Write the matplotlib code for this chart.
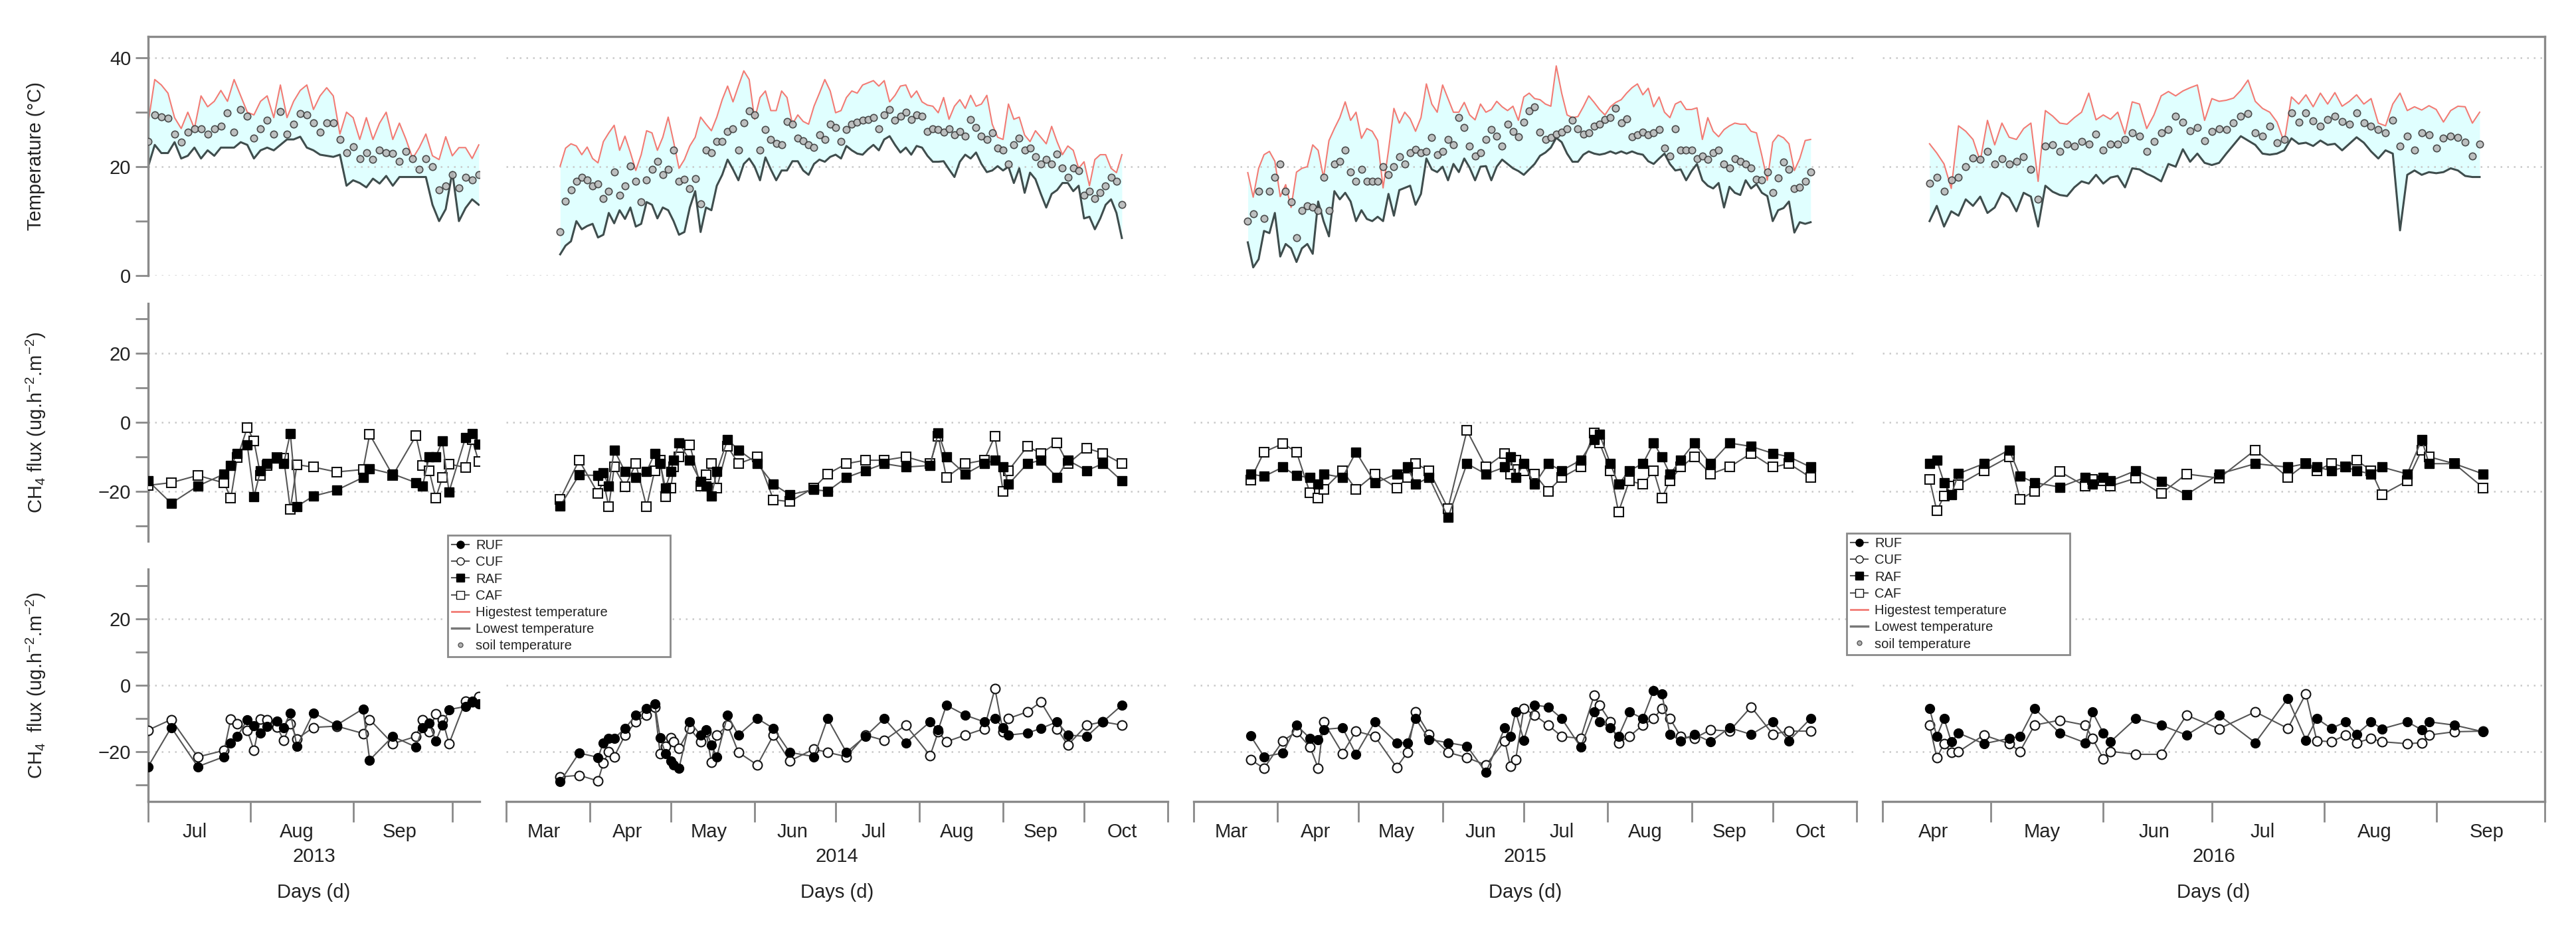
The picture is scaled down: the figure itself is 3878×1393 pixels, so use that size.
import numpy as np
import matplotlib.pyplot as plt
import matplotlib.dates as mdates
from matplotlib.lines import Line2D
from matplotlib.ticker import FixedLocator, NullFormatter

plt.rcParams['font.family'] = ['Liberation Sans', 'DejaVu Sans']
plt.rcParams['mathtext.default'] = 'regular'

# ---------------------------------------------------------------
# Data
# ---------------------------------------------------------------
years = ['2013', '2014', '2015', '2016']
season_start = ['2013-07-01', '2014-03-01', '2015-03-01', '2016-04-01']
season_end = ['2013-10-09T06', '2014-11-01', '2015-11-01', '2016-10-01']

# air / soil temperature, one reading every 2nd day from temp_first
temp_first = ['2013-07-01', '2014-03-21', '2015-03-21', '2016-04-14']
temp_step = 2

tmax_2013 = [28, 36, 35, 33.5, 29, 27, 30, 27, 33, 31, 32, 34, 32, 36, 33, 30, 29.5, 32, 33, 29,
             35, 29, 32, 34, 35, 30.5, 33, 34.5, 33, 26, 30, 29, 25, 29, 25, 28, 30, 25, 28, 25,
             21.5, 23.5, 26, 22, 21.3, 25.5, 22, 23.5, 23.5, 21.5, 24]
tmin_2013 = [20, 24, 22.5, 22.5, 24.5, 21.5, 22, 23.5, 21.5, 23, 22, 23.5, 23.5, 23.5, 24.5, 24,
             21.5, 23, 23.5, 23, 24, 25, 25, 25.5, 23.5, 23, 22.2, 22, 21.8, 22.2, 16.5, 17.5, 17,
             16.2, 17.8, 16.9, 18.3, 16.5, 18.1, 18.1, 18.1, 18.1, 18.1, 13, 10, 12.2, 19, 10,
             12.4, 14, 13]
tsoil_2013 = [24.6, 29.5, 29.2, 28.9, 26, 24.5, 26.4, 27, 27, 26, 27, 27.4, 29.9, 26.4, 30.5, 29.3,
              25.2, 27, 28.5, 26, 30.1, 26, 27.8, 29.7, 29.5, 28, 26.4, 28, 28, 25, 22.5, 23.6,
              21.5, 22.6, 21.3, 23, 22.5, 22.4, 21, 22.8, 21.5, 19.5, 21.5, 20, 15.7, 16.5, 18.5,
              16.1, 18, 17.5, 18.5]

tmax_2014 = [20.1, 23.4, 24.2, 23.8, 22.2, 23.6, 21.5, 20.7, 24.6, 26.2, 27.6, 23, 25.6, 22.6,
             19.3, 22.2, 26.6, 26.2, 23, 25.4, 29.1, 24.6, 19.7, 21.3, 23.8, 25.4, 29.1, 27.8,
             26.6, 29.1, 32.3, 34.8, 31.9, 34.8, 37.6, 36, 28.7, 32.7, 33.9, 30.3, 30.3, 33.9,
             32.7, 27.8, 29.5, 28.3, 27.8, 31.1, 33.5, 36, 33.9, 29.9, 30.3, 32.7, 33.9, 33.5,
             35, 35.4, 35.8, 34.8, 35.8, 31.9, 33.1, 34.8, 35, 32.7, 33.9, 31.9, 31.3, 31.1,
             29.9, 32.7, 28.7, 31.1, 32.3, 30.7, 33.1, 31.1, 31.5, 33.1, 27.8, 25.4, 25, 31.5,
             28.7, 29.1, 25.8, 24.6, 26.6, 25.4, 24.2, 27.4, 24.6, 22.2, 23.8, 23, 19.7, 20.9,
             16.5, 21.3, 22.2, 22.2, 19.7, 18.9, 22.2]
tmin_2014 = [3.9, 5.5, 6.3, 10, 8.5, 9.1, 9.5, 7, 7.5, 11.5, 9.6, 12, 10.4, 12.5, 9, 9.5, 13.5,
             13, 10.5, 12.5, 12, 10, 7.5, 8, 12.5, 15.5, 8, 12.5, 12, 16.5, 18.5, 21.3, 19.5,
             17.5, 20.5, 21.5, 20, 17.5, 21.7, 19.5, 17.5, 19.3, 19.3, 21, 21, 19.3, 18.5, 20.5,
             21.3, 20.9, 21.8, 22.2, 21.5, 23.8, 23, 22.4, 22.2, 23.2, 24, 23, 25, 25.6, 24,
             22.6, 23.5, 22.2, 23.8, 23.5, 22, 20.9, 20.9, 21, 19.5, 18.1, 20.9, 22.2, 21.5,
             22.6, 20.5, 19, 19.3, 20.1, 19.3, 20, 17, 19.7, 15.2, 18.9, 17.7, 15, 12.5, 15,
             15.7, 17, 17, 15.5, 16.5, 10.5, 10.8, 8.5, 10.5, 13, 14, 11.5, 6.9]
tsoil_2014 = [8.1, 13.6, 15.7, 17.3, 18, 17.5, 16.5, 16.8, 14.2, 15.5, 19, 14.8, 16.5, 20.1,
              17.3, 13.5, 17.5, 19.5, 21, 18.5, 19.5, 23, 17.3, 17.7, 16, 17.8, 13.2, 23, 22.5,
              24.6, 24.6, 26.5, 27, 23, 28, 30.3, 29.5, 23, 26.8, 25, 24.3, 24, 28.3, 27.8,
              25.2, 24.8, 24, 23.5, 25.8, 25, 27.8, 27.2, 24.6, 26.8, 27.8, 28.2, 28.5, 28.7,
              29, 27, 29.5, 30.5, 28.5, 29.3, 30, 28.7, 29.5, 29.3, 26.5, 27, 26.8, 26.4, 27,
              25.8, 26.5, 25.6, 28.7, 27.2, 25.6, 25, 26.2, 23.4, 23, 20.5, 24, 25.2, 23, 23.4,
              21.8, 20.5, 21.3, 20.5, 22.3, 19.7, 18.1, 19.7, 19.3, 14.8, 15.5, 14.2, 15.2,
              16.5, 18.1, 17.3, 13]

tmax_2015 = [18.9, 14.4, 19.7, 22.2, 22.8, 21, 14.5, 16.7, 12.5, 19, 19.7, 20, 24, 23, 18,
             24.8, 27, 29, 31.9, 28.5, 30, 25.2, 27, 26.5, 24.8, 16.1, 23, 30.7, 28, 30, 28.8,
             26.5, 29, 35.2, 31.5, 30, 35, 32.5, 30, 30, 31.8, 29.5, 28.6, 31.5, 30, 30.5, 32,
             31, 30.3, 31.1, 28.5, 32.8, 33.5, 32.5, 32.3, 31.5, 31.1, 38.5, 33.5, 29.5, 29,
             29.2, 31, 33, 31.8, 30.5, 29.5, 31, 31.8, 32.3, 33.5, 34.5, 35.2, 33.2, 34.4, 31,
             32.8, 30, 29, 31.5, 32, 30.5, 30.5, 30.8, 25, 29, 26.5, 25.5, 26.8, 27.5, 28,
             27.8, 27.8, 26.5, 26.2, 22, 17.5, 24.5, 25.8, 25.3, 24.2, 19.3, 21.5, 24.8, 25]
tmin_2015 = [6.1, 1.5, 3, 8.2, 7.8, 11.5, 3.5, 5.8, 5, 2.5, 5, 5.8, 4, 13.6, 10, 7.2, 15.5, 14,
             15.2, 13.6, 10, 12, 10.4, 10, 10.8, 10, 15, 11, 15.7, 16.1, 16.5, 13, 15, 21.5,
             19.5, 19, 20, 17.5, 20.5, 19, 21.5, 19.8, 17.5, 20, 20.1, 17.5, 20, 21.3, 20.5,
             19.7, 19.2, 18.5, 19.5, 20.5, 22, 22.6, 23.5, 25.3, 24.5, 22.4, 20.9, 20.9, 22.2,
             22.8, 22.4, 22.2, 22.4, 22.8, 22.4, 22.8, 22.4, 22.8, 22.4, 22.2, 21, 20.5, 21.5,
             22.4, 20.5, 19.3, 19.5, 17.5, 19.2, 20.5, 17.5, 16.5, 16, 17, 12.5, 16.3, 15.2,
             14.8, 17.5, 16, 16.8, 15.2, 14.6, 10, 12, 12.4, 13.6, 7.9, 9.8, 9.5, 9.8]
tsoil_2015 = [10, 11.3, 15.5, 10.5, 15.5, 18.1, 20.5, 15.5, 13.5, 7, 12, 12.8, 12.5, 12, 18, 12,
              20.5, 21, 23, 19, 17.3, 19.5, 17.3, 17.3, 17.3, 20, 18.5, 20, 21.8, 20.5, 22.5,
              23.2, 22.5, 22.8, 25.4, 22.2, 22.8, 25, 24, 29, 27.2, 23.8, 22, 22.5, 25, 26.8,
              25.6, 23.8, 27.8, 26.5, 25.5, 28.2, 30.3, 31, 26.4, 25, 25.4, 26, 26.4, 27, 28.5,
              27, 26, 26.2, 27.4, 27.8, 28.7, 29, 30.7, 28, 28.8, 25.5, 25.8, 26.4, 25.8, 26.2,
              26.8, 23.4, 22, 27, 23, 23, 23, 21.5, 22, 21.3, 22.5, 23, 20.5, 19.8, 21.5, 21,
              20.5, 19.8, 17.7, 17.5, 19, 15.2, 17.9, 20.8, 19.5, 16, 16.2, 17.3, 19]

tmax_2016 = [24.2, 22.5, 20.5, 16, 27.5, 26.5, 25, 21, 28.5, 24, 28, 25.4, 25, 27, 28, 17.3,
             30.3, 29.3, 28, 27.8, 29, 30, 33.5, 28.6, 29.5, 28.7, 30, 26, 31.9, 31.5, 27, 29.5,
             33, 33.8, 33, 33.9, 34.5, 35, 28.5, 32.5, 32, 32.2, 32.6, 34, 35.9, 32, 30.7, 30,
             28.2, 24.5, 32.8, 31.5, 33.2, 31, 33.5, 31.5, 33.6, 31.1, 32, 33.2, 31.5, 32.5, 28,
             27.5, 31.5, 33.5, 30.3, 31, 30.4, 31.2, 30.5, 28.2, 30.3, 31.1, 31, 28, 30]
tmin_2016 = [10, 12.8, 9, 11.8, 11, 14, 12.8, 14.5, 11.5, 12.5, 15.2, 14.3, 11.8, 15.2, 14.5, 9,
             16.5, 15.4, 14.8, 14.6, 16.2, 17.3, 16.9, 18.5, 16.9, 18, 18.3, 16.2, 19.7, 19.5,
             18.7, 18.1, 17.3, 20.5, 20, 23.2, 20.9, 22.4, 20.7, 20.3, 20.7, 22.4, 24, 25.6,
             24.8, 24, 22.4, 22.2, 22.4, 23, 25.2, 24.2, 24.4, 23.8, 24.8, 24, 24.2, 23, 24.2,
             25.4, 24.4, 22.8, 21.5, 23, 22.4, 8.3, 18.5, 19.3, 18.5, 19, 18.8, 19, 19.7, 19.3,
             18.3, 18.1, 18.1]
tsoil_2016 = [16.9, 18, 15.5, 17.5, 18, 20, 21.6, 21.3, 22.8, 20.5, 21.5, 20.5, 21, 21.8, 19.5,
              14, 23.8, 24, 22.8, 24.2, 23.8, 24.6, 24.2, 26, 23, 24.2, 24.2, 25, 26.2, 25.6,
              22.8, 24.6, 26.2, 26.8, 29.3, 28.2, 26.6, 27.2, 24.8, 26.5, 27, 26.8, 28, 29.3,
              29.8, 26.2, 25.6, 27.4, 24.4, 25, 29.9, 28.2, 29.9, 28.4, 27.4, 28.6, 29.3, 28.3,
              27.8, 29.9, 28, 27.4, 26.8, 26.2, 28.5, 23.8, 25.6, 23, 26.2, 25.8, 23.4, 25.2,
              25.6, 25.4, 24.5, 22, 24.2]

# CH4 flux campaigns: days after season_start
flux_day_2013 = [0, 7, 15, 23, 25, 27, 30, 32, 34, 36, 39, 41, 43, 45, 50, 57, 65, 67, 74, 81,
                 83, 85, 87, 89, 91, 96, 98, 100]
raf_2013 = [-17, -23.5, -18.5, -15, -12.6, -9, -6.6, -21.6, -14, -12, -10.5, -12, -3.2, -24.4,
            -21.4, -19.7, -16, -13.4, -15, -17.5, -18.5, -10, -10, -5.4, -20.2, -4.4, -3.3, -6.3]
caf_2013 = [-18.3, -17.5, -15.4, -17.6, -22, -10.2, -1.5, -5.4, -15.4, -12.5, -10.2, -10.5,
            -25.2, -12.3, -13, -14.4, -13.7, -3.5, -15.4, -3.9, -12.5, -14, -22, -16, -12.1,
            -13.1, -5, -11.4]
ruf_2013 = [-24.5, -12.7, -24.5, -21.5, -17.4, -15.4, -10.3, -12.2, -14.3, -12.3, -10.8, -12.7,
            -8.3, -18.4, -8.3, -12, -7.1, -22.5, -15.4, -18.6, -12.8, -11.4, -16.8, -12, -7.3,
            -6.4, -4.7, -5.5]
cuf_2013 = [-13.5, -10.3, -21.6, -19.6, -10.1, -11.6, -13.6, -19.6, -10.1, -10.3, -12.5, -16.6,
            -11.6, -16.1, -12.7, -12.3, -14.5, -10.3, -17.6, -15.4, -10.3, -13.9, -8.6, -10.3,
            -17.6, -4.7, -4.9, -3.4]

flux_day_2014 = [20, 27, 34, 36, 38, 40, 44, 48, 52, 55, 57, 59, 61, 62, 64, 68, 72, 74, 76, 78,
                 82, 86, 93, 99, 105, 114, 119, 126, 133, 140, 148, 157, 160, 163, 170, 177, 181,
                 184, 186, 193, 198, 204, 208, 215, 221, 228]
raf_2014 = [-24.3, -15.3, -15.4, -14.6, -18.5, -8, -14.3, -16, -14.3, -9, -12, -19.1, -14.3, -11,
            -6, -11, -17.2, -18.5, -21.4, -14.3, -5, -8, -12, -18, -21, -19.5, -20, -16, -14, -12,
            -13, -12.5, -3, -10, -15, -12, -11, -13, -18, -12, -11, -16, -11, -14, -12, -17]
caf_2014 = [-22.3, -11, -20.6, -17, -24.5, -13, -18.7, -12, -24.5, -14, -11, -21.6, -19.1, -13,
            -10, -6.5, -18.5, -15.3, -12, -19.1, -7, -12, -10, -22.5, -23, -19, -15, -12, -11,
            -11, -10, -12, -4, -16, -12, -11, -4, -20, -14, -7, -9, -6, -12, -7.5, -9, -12]
ruf_2014 = [-29, -20.4, -21.7, -17.3, -16, -16, -13, -9, -7, -5.5, -15.7, -20.5, -22.8, -24, -25,
            -11, -15, -13.4, -18, -21.5, -9, -15, -10, -13, -20.2, -21.5, -10, -20.2, -15.4, -10,
            -17.3, -11, -13.4, -6, -9, -11, -10, -12.8, -15, -14.4, -13, -11, -15, -15.4, -11, -6]
cuf_2014 = [-27.6, -27.1, -28.8, -23.4, -20, -21.5, -15, -11, -9, -6.5, -20.5, -18.3, -15.7, -17,
            -19, -13, -17, -14, -23.1, -15, -12, -20.2, -24, -15, -22.8, -19.2, -20.2, -21.5, -15,
            -16.6, -12, -21.2, -14, -17, -15, -13.1, -1, -14, -10, -8, -5, -13.1, -18, -12, -11,
            -12]

flux_day_2015 = [21, 26, 33, 38, 43, 46, 48, 55, 60, 67, 75, 79, 82, 87, 94, 101, 108, 115, 117,
                 119, 122, 126, 131, 136, 143, 148, 150, 154, 157, 161, 166, 170, 173, 176, 180,
                 185, 191, 198, 206, 214, 220, 228]
raf_2015 = [-15, -15.7, -13, -15.5, -16, -18, -15, -16, -8.6, -17.6, -15, -13, -18, -16, -27.6,
            -12, -15, -13, -10, -16, -12, -18, -12, -14, -11, -5, -3.5, -12, -18, -14, -12, -6,
            -10, -15, -11, -6, -12, -6, -7, -9, -10, -13]
caf_2015 = [-16.7, -8.6, -6.2, -8.6, -20.5, -22, -19.5, -14, -19.5, -15, -19, -16, -12, -14, -25,
            -2.4, -13, -9, -15, -11, -14, -15, -20, -16, -13, -3, -6, -14, -26, -17, -18, -14,
            -22, -17, -13, -10, -15, -13, -9, -13, -12, -16]
ruf_2015 = [-15.2, -21.5, -20.4, -12, -16, -16.3, -13.3, -12.8, -20.8, -11, -17.3, -17.3, -10,
            -16.3, -17.3, -18.3, -26.2, -12.8, -15.4, -8, -16.5, -6, -6.5, -10, -18.6, -8, -11,
            -12.8, -15.4, -8, -10, -1.5, -2.5, -14.7, -16.7, -14.7, -17, -12.8, -14.8, -11,
            -16.7, -10]
cuf_2015 = [-22.4, -25, -16.7, -14, -18.6, -24.9, -11, -20.5, -13.8, -15.4, -24.7, -20.2, -8,
            -14.7, -20.2, -21.8, -24, -16.7, -24.4, -22.4, -7, -9, -12, -15.4, -16, -3, -6, -11,
            -17.3, -15.4, -12, -10, -7, -10, -15.4, -16, -13.4, -13.8, -6.5, -14.7, -13.8, -13.8]

flux_day_2016 = [13, 15, 17, 19, 21, 28, 35, 38, 42, 49, 56, 58, 61, 63, 70, 77, 84, 93, 103, 112,
                 117, 120, 124, 128, 131, 135, 138, 145, 149, 151, 158, 166]
raf_2016 = [-12, -11, -17.5, -21, -14.9, -12, -8, -15.6, -17.5, -18.8, -16, -18, -16, -17, -14,
            -17.2, -21, -15, -12, -13, -12, -13, -14, -13, -14, -15, -13, -15, -5, -12, -12, -15]
caf_2016 = [-16.5, -25.7, -21.4, -18.5, -18.1, -14, -10, -22.3, -20, -14.3, -18.5, -16.5, -17,
            -18.5, -16.2, -20.7, -15, -16.2, -8, -16, -12, -14, -12, -13, -11, -14, -21, -17, -8,
            -10, -12, -19]
ruf_2016 = [-7, -15.4, -10, -17, -14.4, -17.6, -16, -15.4, -7, -14.4, -17.3, -8, -14.4, -17, -10,
            -12, -15, -9, -17.3, -4, -16.5, -10, -13, -11, -14.7, -11, -13.1, -11, -13.4, -11,
            -12, -14]
cuf_2016 = [-12, -21.8, -17.6, -20.2, -20, -15, -17.6, -19.9, -12, -10.5, -12, -16, -22.1, -19.9,
            -20.8, -20.8, -9, -13.1, -8, -13, -2.5, -16.7, -17, -15, -17.3, -16, -17, -17.6,
            -17.3, -15, -14, -13.8]

tmax = [tmax_2013, tmax_2014, tmax_2015, tmax_2016]
tmin = [tmin_2013, tmin_2014, tmin_2015, tmin_2016]
tsoil = [tsoil_2013, tsoil_2014, tsoil_2015, tsoil_2016]
flux_day = [flux_day_2013, flux_day_2014, flux_day_2015, flux_day_2016]
raf = [raf_2013, raf_2014, raf_2015, raf_2016]
caf = [caf_2013, caf_2014, caf_2015, caf_2016]
ruf = [ruf_2013, ruf_2014, ruf_2015, ruf_2016]
cuf = [cuf_2013, cuf_2014, cuf_2015, cuf_2016]

# ---------------------------------------------------------------
# Layout (pixel boxes of the panels)
# ---------------------------------------------------------------
W, H = 3878, 1393
col_px = [(223, 722), (762, 1758), (1797, 2795), (2834, 3831)]
row_px = [(55, 415), (457, 815), (857, 1207)]

AXC = '#8a8a8a'
TXT = '#222222'
GRID = '#c9c9c9'
HI = '#f27b74'
LO = '#3f4d4d'
FILL = '#e0ffff'
LINE = '#555555'
FS = 21

fig = plt.figure(figsize=(W / 100, H / 100), dpi=100)

for c in range(4):
    x0, x1 = col_px[c]
    t0 = np.datetime64(season_start[c])
    t1 = np.datetime64(season_end[c])
    td = np.datetime64(temp_first[c], 'D') + np.arange(len(tmax[c])) * temp_step
    fd = np.datetime64(season_start[c], 'D') + np.array(flux_day[c])

    for r in range(3):
        y0, y1 = row_px[r]
        ax = fig.add_axes([x0 / W, 1 - y1 / H, (x1 - x0) / W, (y1 - y0) / H])

        if r == 0:
            ax.fill_between(td, tmin[c], tmax[c], color=FILL, lw=0, zorder=0.2)
            ax.plot(td, tmax[c], color=HI, lw=1.5, zorder=2)
            ax.plot(td, tmin[c], color=LO, lw=2.2, zorder=2)
            ax.plot(td, tsoil[c], ls='none', marker='o', ms=7.5, mfc='#b8b8b8',
                    mec='#3c3c3c', mew=1.2, alpha=0.9, zorder=3)
            ax.set_ylim(0, 43.9)
            ax.yaxis.set_major_locator(FixedLocator([0, 20, 40]))
            ax.yaxis.set_minor_locator(FixedLocator([10, 30]))
        else:
            a, b = (raf[c], caf[c]) if r == 1 else (ruf[c], cuf[c])
            mk = 's' if r == 1 else 'o'
            ms = 9.5 if r == 1 else 10
            ax.plot(fd, b, color=LINE, lw=1.5, marker=mk, ms=ms, mfc='white',
                    mec='#111111', mew=1.5, zorder=3)
            ax.plot(fd, a, color=LINE, lw=1.5, marker=mk, ms=ms, mfc='black',
                    mec='black', mew=1.0, zorder=3)
            ax.set_ylim(-34.5, 34.5) if r == 1 else ax.set_ylim(-35, 35)
            ax.yaxis.set_major_locator(FixedLocator([-20, 0, 20]))
            ax.yaxis.set_minor_locator(FixedLocator([-30, -10, 10, 30]))

        ax.set_xlim(t0, t1)
        ax.set_axisbelow(True)
        ax.yaxis.grid(True, which='major', color=GRID, linestyle=(0, (1, 3)), linewidth=1.8)

        for side in ['top', 'right', 'left', 'bottom']:
            ax.spines[side].set_visible(False)
        for side in ['left', 'bottom']:
            ax.spines[side].set_color(AXC)
            ax.spines[side].set_linewidth(2.4)

        if c == 0:
            ax.spines['left'].set_visible(True)
            ax.tick_params(axis='y', which='both', direction='out', length=13.5, width=2,
                           color=AXC, labelsize=FS, labelcolor=TXT, pad=5)
        else:
            ax.tick_params(axis='y', which='both', left=False, labelleft=False)

        if r == 2:
            ax.spines['bottom'].set_visible(True)
            ax.xaxis.set_major_locator(mdates.MonthLocator())
            ax.xaxis.set_major_formatter(NullFormatter())
            ax.xaxis.set_minor_locator(mdates.MonthLocator(bymonthday=15))
            ax.xaxis.set_minor_formatter(mdates.DateFormatter('%b'))
            ax.tick_params(axis='x', which='major', direction='out', length=22, width=2,
                           color=AXC)
            ax.tick_params(axis='x', which='minor', length=0, pad=23, labelsize=FS,
                           labelcolor=TXT)
            ax.text(0.5, -0.237, years[c], transform=ax.transAxes, ha='center',
                    va='center', fontsize=FS, color=TXT)
            ax.text(0.5, -0.39, 'Days (d)', transform=ax.transAxes, ha='center',
                    va='center', fontsize=FS, color=TXT)
        else:
            ax.tick_params(axis='x', which='both', bottom=False, labelbottom=False)

# outer frame (top and right side)
fig.add_artist(Line2D([223 / W, 3831 / W], [1 - 55 / H, 1 - 55 / H],
                      transform=fig.transFigure, color=AXC, lw=2.4))
fig.add_artist(Line2D([3831 / W, 3831 / W], [1 - 55 / H, 1 - 1207 / H],
                      transform=fig.transFigure, color=AXC, lw=2.4))

# y axis titles
fig.text(54 / W, 1 - 235 / H, 'Temperature (\u00b0C)', rotation=90, ha='center',
         va='center', fontsize=FS, color=TXT)
fig.text(54 / W, 1 - 636 / H, r'CH$_4$ flux (ug.h$^{-2}$.m$^{-2}$)', rotation=90,
         ha='center', va='center', fontsize=FS, color=TXT)
fig.text(54 / W, 1 - 1032 / H, r'CH$_4$  flux (ug.h$^{-2}$.m$^{-2}$)', rotation=90,
         ha='center', va='center', fontsize=FS, color=TXT)

# legends
handles = [
    Line2D([], [], color=LINE, lw=1.5, marker='o', ms=8, mfc='black', mec='black'),
    Line2D([], [], color=LINE, lw=1.5, marker='o', ms=8, mfc='white', mec='#111111'),
    Line2D([], [], color=LINE, lw=1.5, marker='s', ms=8, mfc='black', mec='black'),
    Line2D([], [], color=LINE, lw=1.5, marker='s', ms=8, mfc='white', mec='#111111'),
    Line2D([], [], color=HI, lw=2),
    Line2D([], [], color='#777777', lw=2.5),
    Line2D([], [], ls='none', marker='o', ms=5, mfc='#b0b0b0', mec='#555555'),
]
labels = ['RUF', 'CUF', 'RAF', 'CAF', 'Higestest temperature', 'Lowest temperature',
          'soil temperature']

for lx0, lx1, ly0, ly1 in [(674, 1009, 806, 993), (2780, 3116, 803, 990)]:
    leg = fig.legend(handles, labels, loc='upper left',
                     bbox_to_anchor=(lx0 / W, 1 - ly1 / H, (lx1 - lx0) / W, (ly1 - ly0) / H),
                     mode='expand', borderaxespad=0, fontsize=14.5, frameon=True,
                     fancybox=False, edgecolor=AXC, framealpha=1, handlelength=1.3,
                     handletextpad=0.5, labelspacing=0.31, borderpad=0.3)
    leg.get_frame().set_linewidth(2)
    for t in leg.get_texts():
        t.set_color(TXT)

fig.savefig('out.png', dpi=100)
